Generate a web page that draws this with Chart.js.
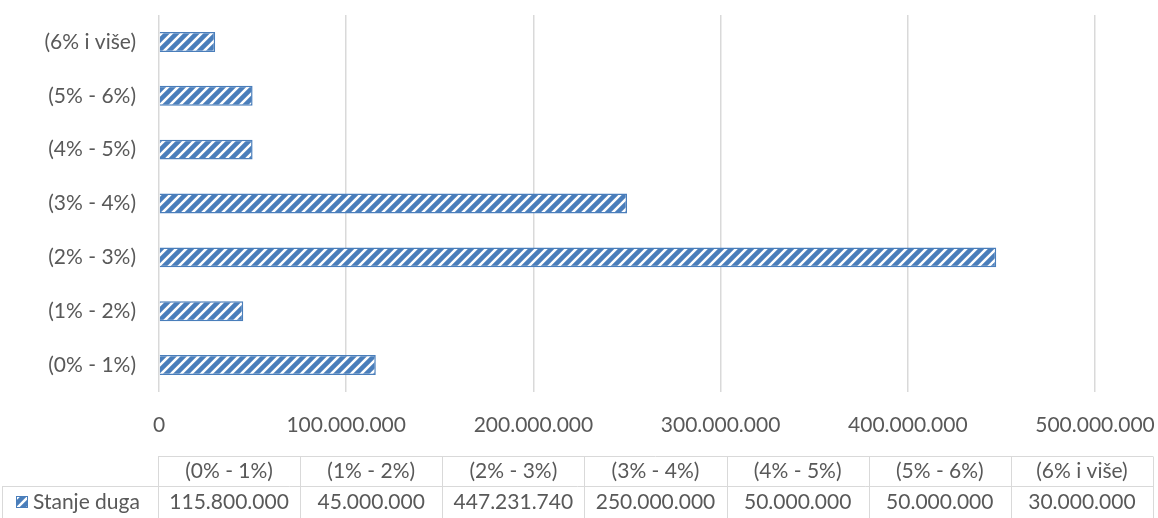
<!DOCTYPE html>
<html lang="hr">
  <head>
    <meta charset="UTF-8" />
    <script src="https://cdn.jsdelivr.net/npm/chart.js"></script>
    <title>Stanje duga</title>
    <style>
      body { margin: 0; background: #fff; }
    </style>
  </head>
  <body>
    <canvas id="grafikon" width="1158" height="518"></canvas>

    <script>
      // podaci
      const kategorije = ["(0% - 1%)", "(1% - 2%)", "(2% - 3%)", "(3% - 4%)", "(4% - 5%)", "(5% - 6%)", "(6% i više)"];
      const stanjeDuga = [115800000, 45000000, 447231740, 250000000, 50000000, 50000000, 30000000];
      const nazivSerije = "Stanje duga";
      const xTicks = [0, 100000000, 200000000, 300000000, 400000000, 500000000];

      const plava = "#4a7ebb";
      const siva = "#595959";
      const linija = "#d9d9d9";
      const font = "Lato";

      function formatiraj(v) {
        return String(Math.round(v)).replace(/\B(?=(\d{3})+(?!\d))/g, ".");
      }

      function napraviSrafuru(boja) {
        var c = document.createElement("canvas");
        c.width = 10;
        c.height = 10;
        var g = c.getContext("2d");
        g.fillStyle = "#fff";
        g.fillRect(0, 0, 10, 10);
        g.strokeStyle = boja;
        g.lineWidth = 4.5;
        g.beginPath();
        g.moveTo(-5, 5); g.lineTo(5, -5);
        g.moveTo(0, 10); g.lineTo(10, 0);
        g.moveTo(5, 15); g.lineTo(15, 5);
        g.stroke();
        return g.createPattern(c, "repeat");
      }

      const srafura = napraviSrafuru(plava);

      // tablica s podacima ispod grafikona
      const tablica = {
        id: "tablica",
        afterDraw(chart) {
          const ctx = chart.ctx;
          const x0 = 158, x1 = 1153, y0 = 456.5, y1 = 486.5, y2 = 530;
          const n = kategorije.length;
          const w = (x1 - x0) / n;
          ctx.save();
          ctx.strokeStyle = linija;
          ctx.lineWidth = 1;
          ctx.beginPath();
          ctx.moveTo(x0, y0); ctx.lineTo(x1, y0);
          ctx.moveTo(2, y1); ctx.lineTo(x1, y1);
          ctx.moveTo(2.5, y1); ctx.lineTo(2.5, y2);
          for (var i = 0; i <= n; i++) {
            var x = Math.round(x0 + i * w) + 0.5;
            ctx.moveTo(x, y0); ctx.lineTo(x, y2);
          }
          ctx.stroke();

          ctx.fillStyle = siva;
          ctx.font = "21px " + font;
          ctx.textAlign = "center";
          ctx.textBaseline = "middle";
          for (var j = 0; j < n; j++) {
            var cx = x0 + (j + 0.5) * w;
            ctx.fillText(kategorije[j], cx, 471);
            ctx.fillText(formatiraj(stanjeDuga[j]), cx, 502);
          }
          // legenda
          ctx.fillStyle = srafura;
          ctx.fillRect(16, 496, 11, 11);
          ctx.strokeStyle = plava;
          ctx.strokeRect(16.5, 496.5, 11, 11);
          ctx.fillStyle = siva;
          ctx.textAlign = "left";
          ctx.fillText(nazivSerije, 33, 502);
          ctx.restore();
        }
      };

      new Chart(document.getElementById("grafikon"), {
        type: "bar",
        data: {
          labels: kategorije,
          datasets: [
            {
              label: nazivSerije,
              data: stanjeDuga,
              backgroundColor: srafura,
              borderColor: plava,
              borderWidth: 1.5,
              barPercentage: 0.37,
              categoryPercentage: 1
            }
          ]
        },
        options: {
          indexAxis: "y",
          responsive: false,
          animation: false,
          layout: { padding: { top: 15, right: 63, bottom: 66, left: 0 } },
          plugins: { legend: { display: false }, tooltip: { enabled: false } },
          scales: {
            x: {
              min: 0,
              max: 500000000,
              afterBuildTicks: function (s) {
                s.ticks = xTicks.map(function (v) { return { value: v }; });
              },
              afterFit: function (s) {
                s.height = 60;
                s.paddingLeft = 0;
                s.paddingRight = 0;
              },
              grid: { color: linija, lineWidth: 1.5, drawTicks: false },
              border: { display: false },
              ticks: {
                color: siva,
                font: { family: font, size: 21 },
                padding: 21,
                maxRotation: 0,
                callback: function (v) { return formatiraj(v); }
              }
            },
            y: {
              reverse: true,
              afterFit: function (s) {
                s.width = 159;
                s.paddingTop = 0;
                s.paddingBottom = 0;
              },
              grid: { display: false },
              border: { display: false },
              ticks: {
                color: siva,
                font: { family: font, size: 21 },
                padding: 15
              }
            }
          }
        },
        plugins: [tablica]
      });
    </script>
  </body>
</html>
